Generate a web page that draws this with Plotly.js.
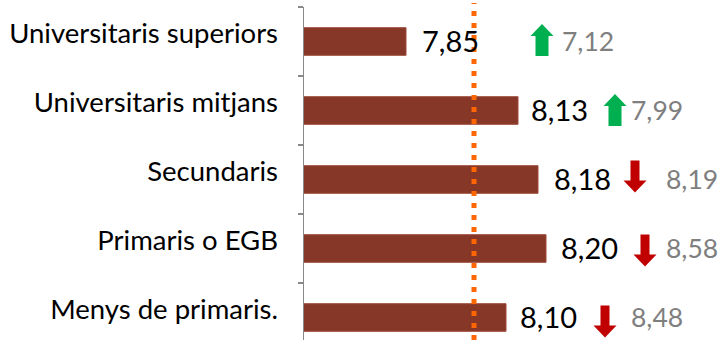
<!DOCTYPE html>
<html>
<head>
<meta charset="utf-8">
<script src="https://cdn.plot.ly/plotly-3.0.1.min.js"></script>
<style>html,body{margin:0;padding:0;background:#fff;}#chart{width:719px;height:340px;}</style>
</head>
<body>
<div id="chart"></div>
<script>
// ---- data ----
var categories = ["Universitaris superiors", "Universitaris mitjans", "Secundaris", "Primaris o EGB", "Menys de primaris."];
var currentValues = [7.85, 8.13, 8.18, 8.20, 8.10];
var previousValues = [7.12, 7.99, 8.19, 8.58, 8.48];
var referenceValue = 8.02;

// ---- layout helpers (pixel offsets from bar end, not data) ----
var valueLabelShift = [14, 11, 14, 13, 12];
var arrowCenterShift = [136, 97, 97, 99, 99];
var arrowYShift = [1.5, 0.5, 3, -2, -4];
var prevLabelShift = [154, 111, 126, 118, 123];

function fmt(v) { return v.toFixed(2).replace('.', ','); }

var FONT = 'Lato, "Open Sans", sans-serif';

var trace = {
  type: 'bar',
  orientation: 'h',
  y: categories,
  x: currentValues,
  width: 0.4,
  marker: { color: '#873727', line: { color: '#9C4A3A', width: 1 } },
  hoverinfo: 'skip'
};

var annotations = [];
var shapes = [];

categories.forEach(function (c, i) {
  annotations.push({
    xref: 'x', yref: 'y', x: currentValues[i], y: c,
    xanchor: 'left', yanchor: 'middle', xshift: valueLabelShift[i], yshift: 1.5,
    text: fmt(currentValues[i]), showarrow: false,
    font: { family: FONT, size: 29, color: '#000000' }
  });
  annotations.push({
    xref: 'x', yref: 'y', x: currentValues[i], y: c,
    xanchor: 'left', yanchor: 'middle', xshift: prevLabelShift[i], yshift: 1,
    text: fmt(previousValues[i]), showarrow: false,
    font: { family: FONT, size: 26.5, color: '#7F7F7F' }
  });
  var up = currentValues[i] > previousValues[i];
  var cx = arrowCenterShift[i];
  var cy = arrowYShift[i];
  var sw = up ? 6.5 : 4.5;   // half shaft width
  var hw = 11.5;             // half head width
  var h = 16;                // half height
  var hh = 12;               // head height
  var d = up ? 1 : -1;
  var p = function (x, y) { return (cx + x) + ',' + (cy + d * y); };
  var path = 'M' + p(-sw, -h) + ' L' + p(sw, -h) + ' L' + p(sw, h - hh) + ' L' + p(hw, h - hh) +
             ' L' + p(0, h) + ' L' + p(-hw, h - hh) + ' L' + p(-sw, h - hh) + ' Z';
  shapes.push({
    type: 'path', xref: 'x', yref: 'y',
    xsizemode: 'pixel', ysizemode: 'pixel',
    xanchor: currentValues[i], yanchor: c,
    path: path,
    fillcolor: up ? '#00B050' : '#C00000',
    line: { width: 0 }
  });
});

shapes.push({
  type: 'line', xref: 'x', yref: 'paper',
  x0: referenceValue, x1: referenceValue, y0: 0, y1: 1.012,
  line: { color: '#FF6600', width: 5, dash: '5px,7px' },
  layer: 'above'
});

var layout = {
  width: 719, height: 340,
  margin: { l: 304, r: 0, t: 7, b: 0, pad: 0 },
  paper_bgcolor: '#ffffff', plot_bgcolor: '#ffffff',
  showlegend: false,
  bargap: 0.6,
  xaxis: {
    range: [7.595, 8.6325], visible: false, showgrid: false, zeroline: false, fixedrange: true
  },
  yaxis: {
    type: 'category',
    range: [4.326, -0.5],
    showline: true, linecolor: '#898989', linewidth: 1.5,
    ticks: 'outside', ticklen: 5, tickwidth: 1.5, tickcolor: '#898989',
    tickson: 'boundaries',
    ticklabelstandoff: 19,
    ticklabelshift: 8,
    showgrid: false, zeroline: false,
    tickfont: { family: FONT, size: 27.5, color: '#000000' }
  },
  annotations: annotations,
  shapes: shapes
};

Plotly.newPlot('chart', [trace], layout, { displayModeBar: false, staticPlot: true });
</script>
</body>
</html>
